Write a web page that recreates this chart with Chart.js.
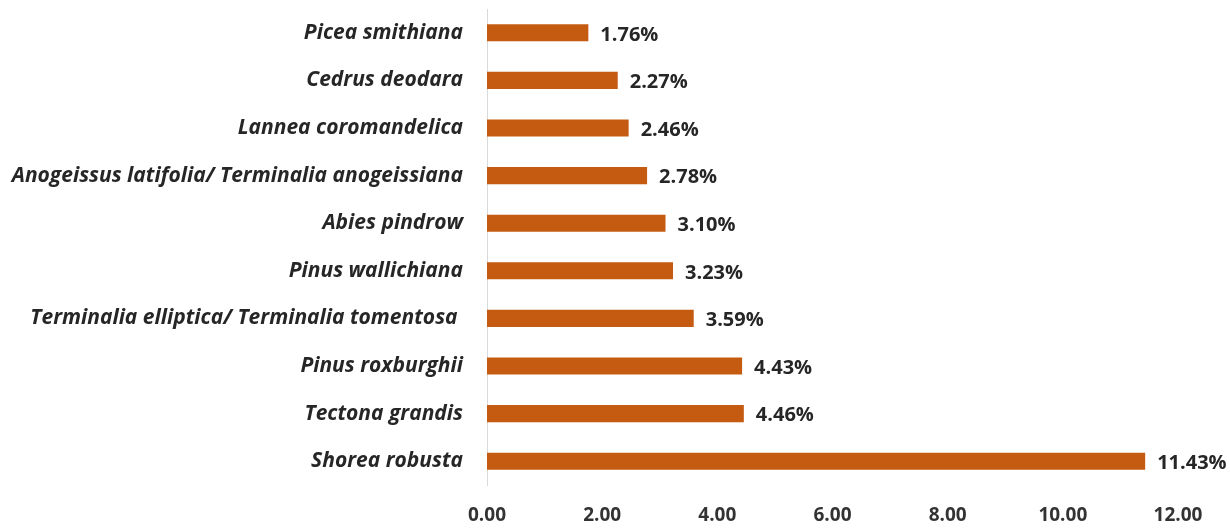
<!DOCTYPE html>
<html>
<head>
<meta charset="utf-8">
<script src="https://cdn.jsdelivr.net/npm/chart.js@4"></script>
<style>
  html, body { margin: 0; padding: 0; background: #fff; }
  #wrap { width: 1230px; height: 528px; }
</style>
</head>
<body>
<div id="wrap"><canvas id="chart"></canvas></div>
<script>
const species = ['Picea smithiana', 'Cedrus deodara', 'Lannea coromandelica',
  'Anogeissus latifolia/ Terminalia anogeissiana', 'Abies pindrow', 'Pinus wallichiana',
  'Terminalia elliptica/ Terminalia tomentosa ', 'Pinus roxburghii', 'Tectona grandis', 'Shorea robusta'];
const shares = [1.76, 2.27, 2.46, 2.78, 3.10, 3.23, 3.59, 4.43, 4.46, 11.43];
const xTicks = [0, 2, 4, 6, 8, 10, 12];

const fontFam = '"Open Sans", Lato, sans-serif';

// value labels at the end of each bar
const barLabels = {
  id: 'barLabels',
  afterDatasetsDraw(c) {
    const ctx = c.ctx;
    ctx.save();
    ctx.font = 'bold 20px ' + fontFam;
    ctx.fillStyle = '#262626';
    ctx.textBaseline = 'middle';
    c.getDatasetMeta(0).data.forEach((bar, i) => {
      ctx.fillText(shares[i].toFixed(2) + '%', bar.x + 12, bar.y + 2);
    });
    ctx.restore();
  }
};

const chart = document.querySelector('#chart').getContext('2d');

new Chart(chart, {
  type: 'bar',
  data: {
    labels: species,
    datasets: [{
      data: shares,
      backgroundColor: '#c55a11',
      barPercentage: 0.72,
      categoryPercentage: 0.5
    }]
  },
  options: {
    indexAxis: 'y',
    responsive: true,
    maintainAspectRatio: false,
    animation: false,
    layout: { padding: { top: 9, right: 52, left: 0, bottom: 0 } },
    plugins: { legend: { display: false }, tooltip: { enabled: false } },
    scales: {
      x: {
        min: 0,
        max: 12,
        afterBuildTicks: s => { s.ticks = xTicks.map(v => ({ value: v })); },
        afterFit: s => { s.height = 43; s.paddingLeft = 0; s.paddingRight = 0; },
        grid: { display: false },
        border: { display: false },
        ticks: {
          padding: 11,
          color: '#333333',
          font: { family: fontFam, size: 19, weight: 'bold' },
          callback: v => v.toFixed(2)
        }
      },
      y: {
        afterFit: s => { s.width = 487; s.paddingTop = 0; s.paddingBottom = 0; },
        grid: { display: false, drawTicks: false },
        border: { display: true, color: '#d9d9d9', width: 1 },
        ticks: {
          padding: 24,
          color: '#262626',
          font: { family: fontFam, size: 21, weight: 'bold', style: 'italic' }
        }
      }
    }
  },
  plugins: [barLabels]
});
</script>
</body>
</html>
